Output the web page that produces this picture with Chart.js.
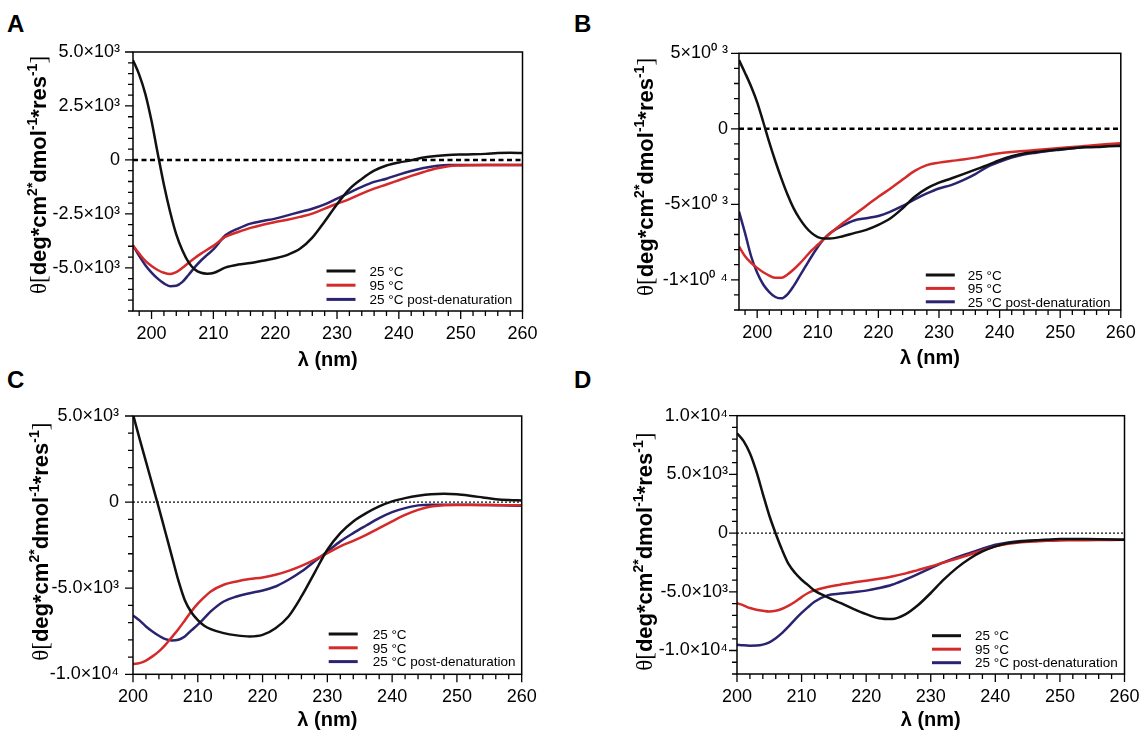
<!DOCTYPE html>
<html>
<head>
<meta charset="utf-8">
<script src="https://cdn.jsdelivr.net/npm/chart.js@4.4.1/dist/chart.umd.min.js"></script>
<style>
    body { margin: 0; background: #fff; width: 1143px; height: 734px; position: relative; overflow: hidden; font-family: "Liberation Sans", Arial, sans-serif; }
    .panel { position: absolute; }
    .letter { position: absolute; font-weight: bold; font-size: 24px; line-height: 24px; color: #000; }
</style>
</head>
<body>
<div class="letter" style="left:7px;top:12px">A</div>
<div class="letter" style="left:574px;top:12px">B</div>
<div class="letter" style="left:7px;top:368px">C</div>
<div class="letter" style="left:574px;top:368px">D</div>
<canvas class="panel" id="chartA" width="571" height="380" style="left:0;top:0"></canvas>
<canvas class="panel" id="chartB" width="572" height="380" style="left:571px;top:0"></canvas>
<canvas class="panel" id="chartC" width="571" height="374" style="left:0;top:360px"></canvas>
<canvas class="panel" id="chartD" width="572" height="374" style="left:571px;top:360px"></canvas>
<script>
// values (mean residue ellipticity)
const seriesLabels = ["25 °C", "95 °C", "25 °C post-denaturation"];
const xTickValues = [200, 210, 220, 230, 240, 250, 260];

// panel A
const wavelengthA = [197, 198, 199, 200, 201, 202, 203, 204, 205, 206, 207, 208, 209, 210, 212, 214, 216, 218, 220, 222, 224, 226, 228, 230, 232, 234, 236, 238, 240, 242, 244, 246, 248, 250, 252, 254, 256, 258, 260];
const black25A = [4620, 3950, 3050, 1800, 300, -1150, -2400, -3450, -4200, -4750, -5080, -5230, -5270, -5240, -4980, -4850, -4780, -4670, -4560, -4400, -4120, -3600, -2850, -2050, -1350, -880, -500, -260, -120, -20, 110, 185, 230, 250, 260, 280, 320, 330, 320];
const red95A = [-3960, -4340, -4680, -4920, -5100, -5230, -5290, -5200, -5000, -4760, -4540, -4340, -4160, -3980, -3550, -3340, -3150, -3000, -2880, -2770, -2640, -2490, -2260, -2030, -1820, -1560, -1330, -1140, -940, -740, -560, -400, -290, -260, -250, -240, -230, -230, -230];
const bluePostA = [-3960, -4450, -4880, -5220, -5500, -5720, -5850, -5830, -5650, -5320, -4970, -4660, -4400, -4150, -3480, -3180, -2950, -2830, -2720, -2570, -2410, -2260, -2060, -1790, -1520, -1250, -1020, -870, -680, -510, -370, -280, -230, -230, -230, -230, -230, -230, -230];
const yTicksA = [5000, 2500, 0, -2500, -5000];
const yLabelsA = ["5.0×10³", "2.5×10³", "0", "-2.5×10³", "-5.0×10³"];

// panel B
const wavelengthB = [197, 198, 199, 200, 201, 202, 203, 204, 205, 206, 207, 208, 209, 210, 211, 212, 214, 216, 218, 220, 222, 224, 226, 228, 230, 232, 234, 236, 238, 240, 242, 244, 246, 248, 250, 252, 254, 256, 258, 260];
const black25B = [4550, 3700, 2800, 1750, 450, -900, -2150, -3300, -4350, -5250, -5950, -6500, -6910, -7170, -7260, -7260, -7130, -6910, -6690, -6360, -5920, -5260, -4500, -3950, -3570, -3290, -3000, -2700, -2410, -2080, -1820, -1640, -1540, -1430, -1360, -1290, -1230, -1210, -1160, -1140];
const red95B = [-7790, -8440, -8880, -9210, -9500, -9720, -9870, -9870, -9650, -9320, -8930, -8490, -8050, -7680, -7300, -6950, -6290, -5700, -5090, -4500, -3950, -3360, -2790, -2410, -2240, -2130, -2040, -1910, -1750, -1620, -1540, -1470, -1400, -1340, -1270, -1210, -1140, -1070, -1010, -960];
const bluePostB = [-5480, -6910, -8440, -9540, -10310, -10810, -11140, -11230, -10960, -10420, -9760, -9100, -8440, -7830, -7300, -6910, -6430, -6070, -5920, -5770, -5480, -5110, -4670, -4280, -3950, -3730, -3400, -3000, -2520, -2190, -1910, -1710, -1580, -1470, -1380, -1290, -1210, -1140, -1070, -1030];
const yTicksB = [5000, 0, -5000, -10000];
const yLabelsB = ["5×10⁰ ³", "0", "-5×10⁰ ³", "-1×10⁰ ⁴"];

// panel C
const wavelengthC = [200, 201, 202, 203, 204, 205, 206, 207, 208, 209, 210, 211, 212, 214, 216, 218, 220, 222, 224, 226, 228, 230, 232, 234, 236, 238, 240, 242, 244, 246, 248, 250, 252, 254, 256, 258, 260];
const black25C = [5100, 3700, 2350, 1000, -350, -1750, -3150, -4550, -5700, -6400, -6850, -7180, -7380, -7610, -7740, -7800, -7710, -7320, -6640, -5480, -4120, -2770, -1800, -1120, -640, -250, 40, 230, 370, 460, 480, 450, 370, 270, 170, 120, 100];
const red95C = [-9410, -9350, -9200, -8960, -8670, -8290, -7840, -7380, -6870, -6350, -5900, -5520, -5190, -4800, -4610, -4470, -4380, -4220, -3990, -3700, -3350, -2960, -2570, -2250, -1900, -1510, -1120, -740, -450, -250, -190, -170, -170, -170, -170, -180, -190];
const bluePostC = [-6580, -6870, -7220, -7510, -7760, -7960, -8030, -7990, -7800, -7450, -7120, -6740, -6350, -5770, -5480, -5290, -5130, -4900, -4510, -4030, -3450, -2870, -2280, -1800, -1360, -930, -580, -350, -190, -150, -150, -150, -160, -170, -180, -200, -210];
const yTicksC = [5000, 0, -5000, -10000];
const yLabelsC = ["5.0×10³", "0", "-5.0×10³", "-1.0×10⁴"];

// panel D
const wavelengthD = [200, 201, 202, 203, 204, 205, 206, 207, 208, 209, 210, 211, 212, 214, 216, 218, 220, 222, 224, 226, 228, 230, 232, 234, 236, 238, 240, 242, 244, 246, 248, 250, 252, 254, 256, 258, 260];
const black25D = [8510, 7850, 6800, 5250, 3350, 1500, -50, -1450, -2650, -3400, -3970, -4430, -4900, -5450, -5950, -6450, -6900, -7250, -7320, -6950, -6150, -5100, -3970, -2980, -2180, -1560, -1130, -850, -710, -620, -570, -510, -510, -510, -520, -540, -570];
const red95D = [-5960, -6150, -6380, -6520, -6610, -6670, -6610, -6440, -6180, -5850, -5450, -5100, -4880, -4590, -4390, -4200, -4060, -3890, -3690, -3450, -3150, -2840, -2500, -2180, -1840, -1470, -1130, -910, -770, -710, -650, -620, -610, -600, -590, -580, -570];
const bluePostD = [-9500, -9560, -9590, -9580, -9500, -9300, -8950, -8500, -7950, -7350, -6800, -6300, -5850, -5300, -5150, -5030, -4900, -4680, -4400, -3970, -3490, -2980, -2500, -2070, -1700, -1330, -990, -790, -680, -620, -590, -570, -570, -570, -570, -570, -570];
const yTicksD = [10000, 5000, 0, -5000, -10000];
const yLabelsD = ["1.0×10⁴", "5.0×10³", "0", "-5.0×10³", "-1.0×10⁴"];

const lineColors = ["#111111", "#d42a2a", "#2a2470"];
const fontFamily = "'Liberation Sans', Arial, sans-serif";

// box around the plot + major/minor tick marks pointing outwards
const frameAndTicks = {
    id: "frameAndTicks",
    afterDatasetsDraw(chart, args, opts) {
        const { ctx, chartArea: a, scales } = chart;
        ctx.save();
        ctx.strokeStyle = "#000";
        ctx.lineWidth = 1.5;
        ctx.strokeRect(a.left, a.top, a.right - a.left, a.bottom - a.top);
        ctx.lineWidth = 1.3;
        ctx.beginPath();
        scales.x.ticks.forEach((t) => {
            const px = scales.x.getPixelForValue(t.value);
            const len = t.value % 10 === 0 ? 8 : 5;
            ctx.moveTo(px, a.bottom);
            ctx.lineTo(px, a.bottom + len);
        });
        scales.y.ticks.forEach((t) => {
            const py = scales.y.getPixelForValue(t.value);
            const len = t.value % opts.yMajor === 0 ? 8 : 5;
            ctx.moveTo(a.left, py);
            ctx.lineTo(a.left - len, py);
        });
        ctx.stroke();
        ctx.restore();
    },
};

// legend inside the lower right corner of the plot
const innerLegend = {
    id: "innerLegend",
    afterDraw(chart, args, opts) {
        const { ctx, chartArea: a } = chart;
        ctx.save();
        ctx.font = `13.5px ${fontFamily}`;
        ctx.textBaseline = "middle";
        ctx.fillStyle = "#000";
        chart.data.datasets.filter((d) => !d.isZero).forEach((d, i) => {
            const y = a.bottom - opts.bottom + i * opts.rowGap;
            ctx.strokeStyle = d.borderColor;
            ctx.lineWidth = 3;
            ctx.beginPath();
            ctx.moveTo(a.right - opts.lineStart, y);
            ctx.lineTo(a.right - opts.lineStart + 29, y);
            ctx.stroke();
            ctx.fillText(d.label, a.right - opts.textStart, y + 1);
        });
        ctx.restore();
    },
};

// rotated y title with mixed fonts and superscripts
const yTitle = {
    id: "yTitle",
    afterDraw(chart, args, o) {
        const ctx = chart.ctx;
        const s = o.size;
        const serif = `${s + 1}px 'Liberation Serif', serif`;
        const bold = `bold ${s}px ${fontFamily}`;
        const sup = `bold ${Math.round(s * 0.62)}px ${fontFamily}`;
        const rise = -s * 0.42;
        const parts = [
            { t: "θ", f: serif, dy: 0 },
            { t: "[", f: serif, dy: 0 },
            { t: "deg*cm", f: bold, dy: 0 },
            { t: "2*", f: sup, dy: rise },
            { t: "dmol", f: bold, dy: 0 },
            { t: "-1", f: sup, dy: rise },
            { t: "*res", f: bold, dy: 0 },
            { t: "-1", f: sup, dy: rise },
            { t: "]", f: serif, dy: 0 },
        ];
        ctx.save();
        let total = 0;
        parts.forEach((p) => {
            ctx.font = p.f;
            p.w = ctx.measureText(p.t).width;
            total += p.w;
        });
        ctx.translate(o.x, o.y);
        ctx.rotate(-Math.PI / 2);
        ctx.fillStyle = "#000";
        ctx.textBaseline = "alphabetic";
        let x = -total / 2;
        parts.forEach((p) => {
            ctx.font = p.f;
            ctx.fillText(p.t, x, s * 0.36 + p.dy);
            x += p.w;
        });
        ctx.restore();
    },
};

function toPoints(xs, ys) {
    return xs.map((x, i) => ({ x, y: ys[i] }));
}

function makePanel(canvasId, cfg) {
    const canvas = document.getElementById(canvasId);
    const W = canvas.width;
    const H = canvas.height;
    const area = cfg.area;
    const series = [cfg.black, cfg.red, cfg.blue];

    const datasets = series.map((ys, i) => ({
        label: seriesLabels[i],
        data: toPoints(cfg.wl, ys),
        borderColor: lineColors[i],
        borderWidth: 2.5,
        pointRadius: 0,
        cubicInterpolationMode: "monotone",
        fill: false,
    }));
    datasets.push({
        label: "zero",
        isZero: true,
        data: [{ x: cfg.xMin, y: 0 }, { x: 260, y: 0 }],
        borderColor: "#000",
        borderWidth: cfg.zeroWidth,
        borderDash: cfg.zeroDash,
        pointRadius: 0,
    });

    new Chart(canvas, {
        type: "line",
        data: { datasets },
        options: {
            responsive: false,
            animation: false,
            events: [],
            layout: {
                padding: {
                    left: 0,
                    top: area.top,
                    right: W - area.right,
                    bottom: H - area.bottom - cfg.xHeight,
                },
            },
            scales: {
                x: {
                    type: "linear",
                    min: cfg.xMin,
                    max: 260,
                    border: { display: false },
                    grid: { display: true, drawOnChartArea: false, drawTicks: true, tickLength: 8, tickColor: "rgba(0,0,0,0)" },
                    ticks: {
                        stepSize: 2,
                        includeBounds: false,
                        autoSkip: false,
                        maxRotation: 0,
                        padding: 4,
                        color: "#000",
                        font: { family: fontFamily, size: 18 },
                        callback: (v) => (xTickValues.includes(v) ? String(v) : ""),
                    },
                    title: {
                        display: true,
                        text: "λ (nm)",
                        color: "#000",
                        font: { family: fontFamily, size: 20, weight: "bold" },
                        padding: { top: 0, bottom: cfg.titlePad },
                    },
                    afterFit: (scale) => {
                        scale.height = cfg.xHeight;
                        scale.paddingLeft = 0;
                        scale.paddingRight = 0;
                    },
                },
                y: {
                    type: "linear",
                    min: cfg.yMin,
                    max: cfg.yMax,
                    border: { display: false },
                    grid: { display: true, drawOnChartArea: false, drawTicks: true, tickLength: 8, tickColor: "rgba(0,0,0,0)" },
                    ticks: {
                        stepSize: cfg.yStep,
                        autoSkip: false,
                        padding: cfg.yPad,
                        color: "#000",
                        font: { family: fontFamily, size: 18 },
                        callback: (v) => {
                            const i = cfg.yTicks.indexOf(v);
                            return i >= 0 ? cfg.yLabels[i] : "";
                        },
                    },
                    afterFit: (scale) => {
                        scale.width = area.left;
                        scale.paddingTop = 0;
                        scale.paddingBottom = 0;
                    },
                },
            },
            plugins: {
                legend: { display: false },
                tooltip: { enabled: false },
                frameAndTicks: { yMajor: cfg.yMajor },
                innerLegend: cfg.legend,
                yTitle: cfg.title,
            },
        },
        plugins: [frameAndTicks, innerLegend, yTitle],
    });
}

makePanel("chartA", {
    wl: wavelengthA, black: black25A, red: red95A, blue: bluePostA,
    xMin: 197, yMin: -7000, yMax: 5000, yStep: 500, yMajor: 2500,
    yTicks: yTicksA, yLabels: yLabelsA, yPad: 5,
    zeroWidth: 2.5, zeroDash: [5, 3.5],
    area: { left: 133, top: 52, right: 522.5, bottom: 311 },
    xHeight: 65, titlePad: 4,
    legend: { lineStart: 196, textStart: 153, bottom: 40, rowGap: 14.2 },
    title: { x: 38, y: 175, size: 22 },
});

makePanel("chartB", {
    wl: wavelengthB, black: black25B, red: red95B, blue: bluePostB,
    xMin: 197, yMin: -12000, yMax: 5000, yStep: 1000, yMajor: 5000,
    yTicks: yTicksB, yLabels: yLabelsB, yPad: 3,
    zeroWidth: 2.5, zeroDash: [5, 3.5],
    area: { left: 168, top: 53.3, right: 549.8, bottom: 310 },
    xHeight: 65, titlePad: 5,
    legend: { lineStart: 195, textStart: 153, bottom: 35, rowGap: 13.4 },
    title: { x: 74, y: 177, size: 22 },
});

makePanel("chartC", {
    wl: wavelengthC, black: black25C, red: red95C, blue: bluePostC,
    xMin: 200, yMin: -10000, yMax: 5000, yStep: 1000, yMajor: 5000,
    yTicks: yTicksC, yLabels: yLabelsC, yPad: 6,
    zeroWidth: 1.2, zeroDash: [2, 2],
    area: { left: 133, top: 56, right: 521.7, bottom: 314.3 },
    xHeight: 59.7, titlePad: 2,
    legend: { lineStart: 193, textStart: 149, bottom: 40.3, rowGap: 13.8 },
    title: { x: 40, y: 181.7, size: 22 },
});

makePanel("chartD", {
    wl: wavelengthD, black: black25D, red: red95D, blue: bluePostD,
    xMin: 200, yMin: -12000, yMax: 10000, yStep: 1000, yMajor: 5000,
    yTicks: yTicksD, yLabels: yLabelsD, yPad: 1,
    zeroWidth: 1.2, zeroDash: [2, 2],
    area: { left: 166, top: 55.7, right: 553.5, bottom: 314 },
    xHeight: 60, titlePad: 2,
    legend: { lineStart: 192.5, textStart: 149.5, bottom: 38.3, rowGap: 13.5 },
    title: { x: 73, y: 191.7, size: 22 },
});
</script>
</body>
</html>
